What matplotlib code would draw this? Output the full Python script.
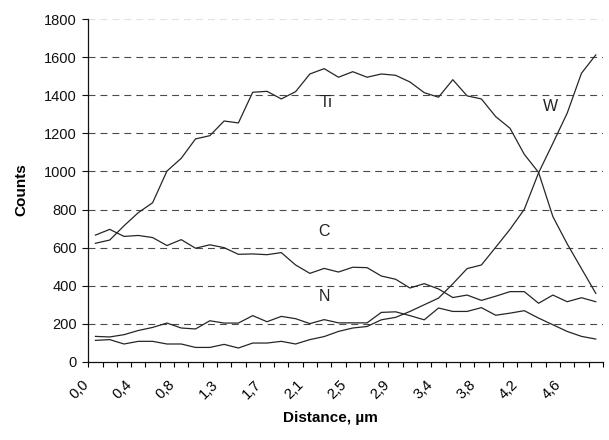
import numpy as np
import matplotlib
matplotlib.use('Agg')
import matplotlib.pyplot as plt
from matplotlib.transforms import ScaledTranslation

# counts, one value per category (36 steps along the scan)
ti = [623, 640, 715, 784, 836, 1002, 1069, 1171, 1188, 1265, 1255, 1416,
      1421, 1381, 1419, 1512, 1540, 1495, 1524, 1495, 1512, 1505, 1470, 1414,
      1390, 1482, 1397, 1381, 1288, 1227, 1090, 995, 763, 620, 490, 360]
w = [113, 117, 94, 108, 108, 94, 94, 76, 76, 92, 73, 99,
     99, 108, 94, 117, 133, 160, 178, 186, 221, 234, 265, 300,
     335, 410, 490, 509, 602, 696, 801, 993, 1148, 1306, 1516, 1612]
c = [666, 696, 659, 664, 653, 611, 642, 597, 615, 600, 565, 567,
     563, 574, 509, 465, 491, 472, 497, 495, 451, 434, 388, 411,
     383, 338, 351, 323, 345, 369, 369, 308, 351, 316, 337, 316]
n = [134, 131, 143, 165, 181, 204, 178, 173, 216, 204, 204, 243,
     211, 239, 227, 201, 222, 205, 205, 205, 260, 263, 243, 221,
     283, 265, 265, 285, 245, 256, 269, 230, 195, 160, 134, 120]
tick_labels = ['0,0', '0,4', '0,8', '1,3', '1,7', '2,1', '2,5', '2,9',
               '3,4', '3,8', '4,2', '4,6']

plt.rcParams['font.family'] = ['Liberation Sans', 'DejaVu Sans']
plt.rcParams['lines.scale_dashes'] = False

fig = plt.figure(figsize=(6.09, 4.40), dpi=100)
ax = fig.add_axes([0.145, 0.1775, 0.845, 0.779])

x = np.arange(len(ti))
for series in (ti, w, c, n):
    ax.plot(x, series, color='#262626', lw=0.9, zorder=3)

ax.set_xlim(-0.5, len(ti) - 0.5)
ax.set_ylim(0, 1800)

# dashed horizontal grid, top one very faint like the source
for v in range(200, 1801, 200):
    ax.axhline(v, color='#4a4a4a' if v < 1800 else '#e0e0e0', lw=0.8,
               dashes=(5, 3.6), zorder=1)

ax.set_yticks(np.arange(0, 1801, 200))
ax.tick_params(axis='y', direction='out', length=4.3, width=0.8,
               labelsize=10.5, pad=4, colors='#111111')

# tick marks on category boundaries, labels on every third category centre
ax.set_xticks(np.arange(-0.5, len(ti)))
ax.set_xticklabels([])
ax.set_xticks(x[::3], minor=True)
ax.set_xticklabels(tick_labels, minor=True, rotation=45, ha='right',
                   va='center', rotation_mode='anchor')
ax.tick_params(axis='x', which='major', direction='out', length=3.9, width=0.8)
ax.tick_params(axis='x', which='minor', length=0, pad=15, labelsize=10.5)
for lbl in ax.get_xticklabels(minor=True):
    lbl.set_transform(lbl.get_transform() + ScaledTranslation(-6 / 72, 0, fig.dpi_scale_trans))

for side in ('top', 'right'):
    ax.spines[side].set_visible(False)
for side in ('left', 'bottom'):
    ax.spines[side].set_linewidth(0.9)
    ax.spines[side].set_color('#111111')

ax.text(16.1, 1360, 'Ti', ha='center', va='center', fontsize=11.5, color='#222222')
ax.text(31.8, 1343, 'W', ha='center', va='center', fontsize=11.5, color='#222222')
ax.text(16.0, 687, 'C', ha='center', va='center', fontsize=11.5, color='#222222')
ax.text(16.0, 341, 'N', ha='center', va='center', fontsize=11.5, color='#222222')

fig.text(330 / 609, 1 - 418 / 440, 'Distance, µm', ha='center', va='center',
         fontsize=11, fontweight='bold')
fig.text(21 / 609, 1 - 190 / 440, 'Counts', ha='center', va='center',
         rotation=90, fontsize=11, fontweight='bold')

fig.savefig('out.png', dpi=100)
